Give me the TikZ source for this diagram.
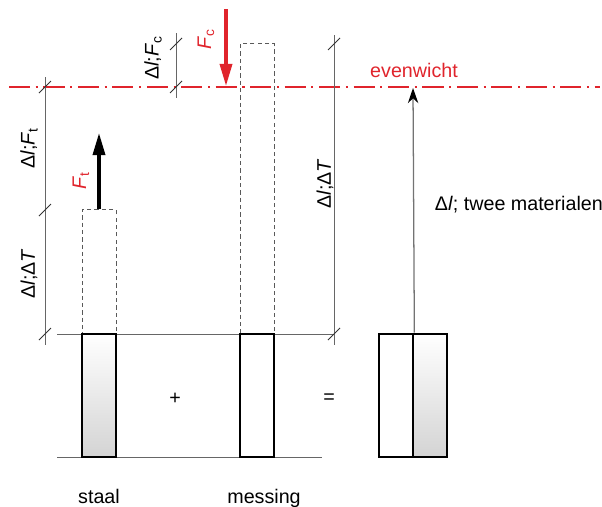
\documentclass[tikz,border=0pt]{standalone}
\usepackage{fontspec}
\setmainfont{Liberation Sans}
\usepackage{tikz}
\usetikzlibrary{arrows.meta}
\definecolor{evrood}{RGB}{224,36,44}

\begin{document}
\begin{tikzpicture}[
    x=0.025cm, y=-0.025cm,
    every node/.style={font=\fontsize{14}{16}\selectfont},
    bar/.style={draw=black, line width=1.9pt, minimum width=0.85cm, minimum height=3.075cm, inner sep=0pt},
    steel/.style={bar, top color=white, bottom color=black!17},
    brass/.style={bar, fill=white},
    ext/.style={draw=black!65, line width=0.7pt, dash pattern=on 3pt off 2.2pt, minimum width=0.85cm, inner sep=0pt},
    dim/.style={black!60, line width=0.5pt},
    dimtick/.style={black!80, line width=0.6pt},
    dimlabel/.style={rotate=90, inner sep=0pt},
    balance/.style={evrood, line width=0.8pt, dash pattern=on 15pt off 4pt on 1.5pt off 4pt},
    force/.style={-{Triangle[length=0.55cm, width=0.3cm]}, line width=2.4pt},
    result/.style={black!55, line width=0.9pt, -{Stealth[length=0.38cm, width=0.26cm, black]}}
]
\useasboundingbox (0,0) rectangle (602,506);

% Free expansion (dashed)
\node[ext, minimum height=3.1cm] (staalext) at (99,272) {};
\node[ext, minimum height=7.25cm] (messingext) at (257,189) {};

% Base lines
\draw[dim] (57,334) -- (334,334);
\draw[dim] (57,457) -- (322,457);

% Bars
\node[steel] (staal) at (99,395.5) {};
\node[brass] (messing) at (257,395.5) {};
\node[brass] (tweeL) at (396,395.5) {};
\node[steel] (tweeR) at (430,395.5) {};

% Equilibrium line
\coordinate (evL) at (9,87);
\coordinate (evR) at (600,87);
\draw[balance] (evL) -- (evR);
\node[text=evrood] (evenwicht) at (414,70) {evenwicht};

% Forces
\coordinate (ftTop) at (99,133);
\draw[force] (staalext.north) -- (ftTop);
\coordinate (fcTop) at (226,9);
\coordinate (fcTip) at (226,86);
\draw[force, evrood] (fcTop) -- (fcTip);
\node[dimlabel, text=evrood] (Ft) at (81,181) {\textit{F}\textsubscript{t}};
\node[dimlabel, text=evrood] (Fc) at (206,39) {\textit{F}\textsubscript{c}};

% Resulting elongation
\coordinate (evTip) at (413,88);
\draw[result] (tweeL.north east) -- (evTip);
\node[anchor=west] (twee) at (430,205) {Δ\textit{l}; twee materialen};

% Dimension lines
\coordinate (dimA1) at (45,77);
\coordinate (dimA2) at (45,345);
\draw[dim] (dimA1) -- (dimA2);
\foreach \y in {87,210,334}
    \draw[dimtick] (45,\y) ++(-6,6) -- ++(12,-12);

\coordinate (dimB1) at (176,33);
\coordinate (dimB2) at (176,98);
\draw[dim] (dimB1) -- (dimB2);
\foreach \y in {44,87}
    \draw[dimtick] (176,\y) ++(-6,6) -- ++(12,-12);

\coordinate (dimC1) at (334,35);
\coordinate (dimC2) at (334,345);
\draw[dim] (dimC1) -- (dimC2);
\foreach \y in {44,334}
    \draw[dimtick] (334,\y) ++(-6,6) -- ++(12,-12);

% Dimension labels
\node[dimlabel] (dimFt) at (29,148) {Δ\textit{l};\textit{F}\textsubscript{t}};
\node[dimlabel] (dimTs) at (29,274) {Δ\textit{l};Δ\textit{T}};
\node[dimlabel] (dimFc) at (153,58) {Δ\textit{l};\textit{F}\textsubscript{c}};
\node[dimlabel] (dimTm) at (325,184) {Δ\textit{l};Δ\textit{T}};

% Operators and names
\node (plus) at (175,399) {+};
\node (gelijk) at (329,399) {=};
\node[anchor=base] (staallabel) at (99,503) {staal};
\node[anchor=base] (messinglabel) at (264,503) {messing};

\end{tikzpicture}
\end{document}
